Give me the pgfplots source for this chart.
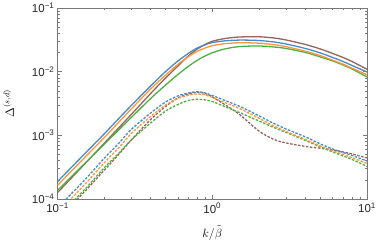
\documentclass[border=0pt]{standalone}
\usepackage{fontspec}
\setmainfont{Liberation Sans}
\usepackage{pgfplots}
\usepackage{pgfplotstable}
\pgfplotsset{compat=1.18}
\definecolor{cblue}{RGB}{70,140,205}
\definecolor{corange}{RGB}{255,150,55}
\definecolor{cgreen}{RGB}{75,175,65}
\definecolor{cbrown}{RGB}{150,100,90}
\definecolor{frame}{RGB}{120,120,120}
\pgfplotstableread{
k      bs        os        gs        ns        bd        od        gd        nd
0.1    1.876e-4  1.634e-4  1.364e-4  1.260e-4  7.25e-5   6.05e-5   5.24e-5   4.70e-5
0.15   5.14e-4   4.498e-4  3.62e-4   3.556e-4  1.994e-4  1.695e-4  1.415e-4  1.316e-4
0.2    1.048e-3  9.17e-4   7.195e-4  7.46e-4   4.338e-4  3.687e-4  3.077e-4  2.812e-4
0.25   1.855e-3  1.629e-3  1.233e-3  1.330e-3  7.60e-4   6.457e-4  5.293e-4  5.105e-4
0.3    2.947e-3  2.597e-3  1.910e-3  2.129e-3  1.238e-3  1.071e-3  8.47e-4   8.47e-4
0.4    5.965e-3  5.35e-3   3.795e-3  4.547e-3  2.247e-3  1.980e-3  1.565e-3  1.776e-3
0.5    1.007e-2  8.87e-3   6.18e-3   7.96e-3   3.344e-3  3.000e-3  2.415e-3  2.842e-3
0.6    1.472e-2  1.306e-2  9.04e-3   1.229e-2  4.154e-3  3.795e-3  3.055e-3  3.865e-3
0.7    1.931e-2  1.713e-2  1.207e-2  1.764e-2  4.63e-3   4.261e-3  3.531e-3  4.466e-3
0.8    2.355e-2  2.090e-2  1.510e-2  2.271e-2  4.836e-3  4.466e-3  3.687e-3  4.75e-3
0.9    2.644e-2  2.355e-2  1.764e-2  2.673e-2  4.63e-3   4.307e-3  3.595e-3  4.547e-3
1      2.862e-2  2.559e-2  1.980e-2  3.000e-2  4.229e-3  3.934e-3  3.406e-3  4.006e-3
1.2    3.044e-2  2.751e-2  2.271e-2  3.308e-2  3.556e-3  3.284e-3  2.842e-3  3.055e-3
1.5    3.134e-2  2.842e-2  2.477e-2  3.505e-2  2.862e-3  2.644e-3  2.279e-3  2.129e-3
2      3.089e-2  2.802e-2  2.531e-2  3.531e-2  2.031e-3  1.855e-3  1.683e-3  1.172e-3
2.5    2.925e-2  2.654e-2  2.442e-2  3.381e-2  1.537e-3  1.404e-3  1.330e-3  8.62e-4
3      2.721e-2  2.469e-2  2.313e-2  3.145e-2  1.260e-3  1.151e-3  1.110e-3  7.60e-4
4      2.313e-2  2.098e-2  2.002e-2  2.673e-2  9.44e-4   8.62e-4   8.32e-4   6.694e-4
5      1.966e-2  1.783e-2  1.701e-2  2.271e-2  7.33e-4   6.815e-4  6.575e-4  6.27e-4
6      1.671e-2  1.515e-2  1.472e-2  1.931e-2  6.113e-4  5.73e-4   5.49e-4   5.90e-4
7      1.446e-2  1.311e-2  1.274e-2  1.671e-2  5.39e-4   5.013e-4  4.75e-4   5.49e-4
8      1.251e-2  1.135e-2  1.103e-2  1.446e-2  4.836e-4  4.466e-4  4.183e-4  5.105e-4
10     9.89e-3   8.97e-3   8.26e-3   1.090e-2  3.963e-4  3.62e-4   3.25e-4   4.418e-4
}\data
\begin{document}
\begin{tikzpicture}
\useasboundingbox (-57.5pt,-46pt) rectangle (319.5pt,199pt);
\begin{axis}[
  at={(0,0)}, anchor=south west,
  scale only axis, width=309.5pt, height=191pt,
  xmode=log, ymode=log,
  xmin=0.1, xmax=10, ymin=1e-4, ymax=0.1,
  axis line style={frame, line width=0.6pt},
  tick style={frame, line width=0.5pt},
  tick align=inside,
  major tick length=4.5pt, minor tick length=2.5pt,
  xtick={0.1,1,10},
  xticklabels={10\textsuperscript{−1},10\textsuperscript{0},10\textsuperscript{1}},
  minor xtick={0.2,0.3,0.4,0.5,0.6,0.7,0.8,0.9,2,3,4,5,6,7,8,9},
  ytick={1e-4,1e-3,1e-2,1e-1},
  yticklabels={10\textsuperscript{−4},10\textsuperscript{−3},10\textsuperscript{−2},10\textsuperscript{−1}},
  minor ytick={2e-4,3e-4,4e-4,5e-4,6e-4,7e-4,8e-4,9e-4,2e-3,3e-3,4e-3,5e-3,6e-3,7e-3,8e-3,9e-3,2e-2,3e-2,4e-2,5e-2,6e-2,7e-2,8e-2,9e-2},
  ticklabel style={font=\fontsize{11.5}{13}\selectfont, text=black!85},
  xticklabel style={yshift=-0.5pt},
  yticklabel style={xshift=0.5pt},
  xlabel={$k/\tilde{\beta}$},
  ylabel={$\Delta^{(s,d)}$},
  xlabel style={font=\fontsize{12}{14}\selectfont, at={(axis description cs:0.5,-0.178)}, anchor=center},
  ylabel style={font=\fontsize{12}{14}\selectfont, at={(axis description cs:-0.158,0.5)}, anchor=center},
  every axis plot/.append style={line width=1.3pt, smooth},
]
\addplot[cbrown, dash pattern=on 2.5pt off 1.5pt] table[x=k,y=nd]{\data};
\addplot[cgreen, dash pattern=on 2.5pt off 1.5pt] table[x=k,y=gd]{\data};
\addplot[corange, dash pattern=on 2.5pt off 1.5pt] table[x=k,y=od]{\data};
\addplot[cblue, dash pattern=on 2.5pt off 1.5pt] table[x=k,y=bd]{\data};
\addplot[cbrown] table[x=k,y=ns]{\data};
\addplot[cgreen] table[x=k,y=gs]{\data};
\addplot[corange] table[x=k,y=os]{\data};
\addplot[cblue] table[x=k,y=bs]{\data};
\end{axis}
\end{tikzpicture}
\end{document}
